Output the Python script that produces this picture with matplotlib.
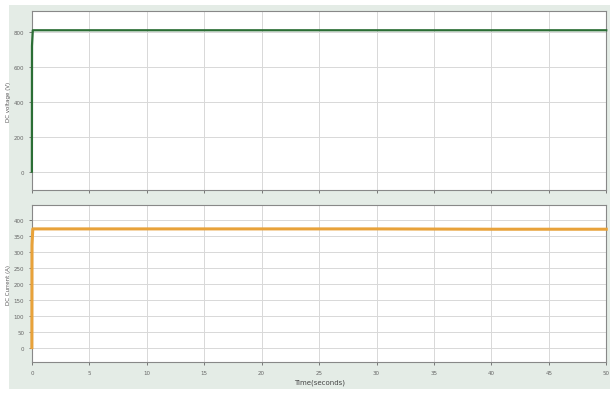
import matplotlib.pyplot as plt

# scope data
time = [0, 0.01, 0.08, 10, 20, 30, 40, 50]
dc_voltage = [0, 720, 810, 810, 810, 810, 810, 810]
dc_current = [0, 320, 371, 371, 371, 371, 370, 370]

x_ticks = [0, 5, 10, 15, 20, 25, 30, 35, 40, 45, 50]
v_ticks = [0, 200, 400, 600, 800]
i_ticks = [0, 50, 100, 150, 200, 250, 300, 350, 400]

bg = '#e4ece6'
fig = plt.figure(figsize=(6.13, 4.02), dpi=100, facecolor='white')
fig.patches.append(plt.Rectangle((0.015, 0.03), 0.98, 0.955, transform=fig.transFigure,
                                 facecolor=bg, edgecolor='none', zorder=-10))

ax1 = fig.add_axes([0.052, 0.525, 0.937, 0.445])
ax2 = fig.add_axes([0.052, 0.097, 0.937, 0.39])

ax1.plot(time, dc_voltage, color='#2b6e35', lw=1.6, clip_on=False, zorder=5)
ax1.set_ylim(-105, 920)
ax1.set_yticks(v_ticks)
ax1.set_ylabel('DC voltage (V)', fontsize=4, color='#555555', labelpad=2)

ax2.plot(time, dc_current, color='#e8a23a', lw=2.2, clip_on=False, zorder=5)
ax2.set_ylim(-45, 445)
ax2.set_yticks(i_ticks)
ax2.set_ylabel('DC Current (A)', fontsize=4, color='#555555', labelpad=2)
ax2.set_xlabel('Time(seconds)', fontsize=5, color='#444444', labelpad=3)

for ax in (ax1, ax2):
    ax.set_xlim(0, 50)
    ax.set_xticks(x_ticks)
    ax.grid(True, color='#d8d8d8', lw=0.7)
    ax.tick_params(labelsize=4, colors='#666666', length=2, width=0.6)
    for s in ax.spines.values():
        s.set_color('#888888')
        s.set_linewidth(0.8)
ax1.tick_params(labelbottom=False)

fig.savefig('out.png', dpi=100, facecolor='white')
